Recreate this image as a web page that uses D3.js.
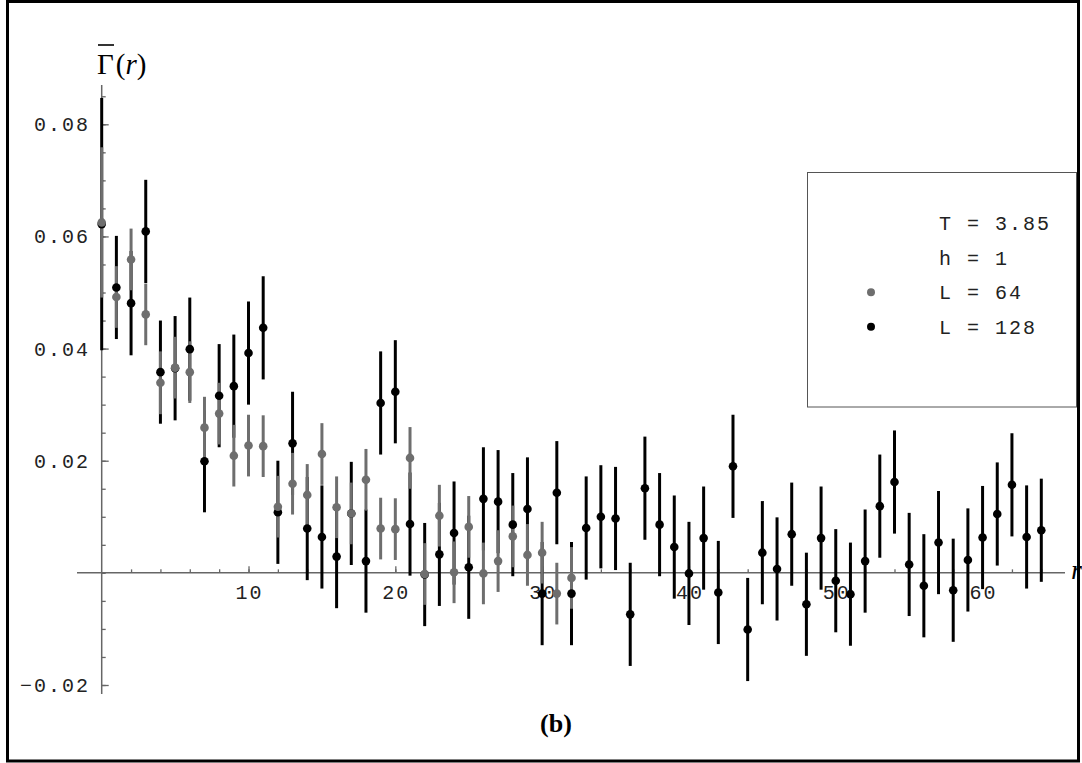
<!DOCTYPE html>
<html><head><meta charset="utf-8">
<script src="https://cdn.jsdelivr.net/npm/d3@7"></script>
<style>html,body{margin:0;padding:0;background:#fff;}</style>
</head><body>
<svg id="c" width="1082" height="763"></svg>
<script>
// ---- data ----
const rL64 = [0,1,2,3,4,5,6,7,8,9,10,11,12,13,14,15,16,17,18,19,20,21,22,23,24,25,26,27,28,29,30,31,32];
const gL64 = [0.0625,0.0492,0.0559,0.0461,0.0339,0.0366,0.0358,0.0259,0.0284,0.0209,0.0227,0.0226,0.0118,0.0159,0.0139,0.0212,0.0117,0.0106,0.0166,0.0079,0.0078,0.0205,-0.0002,0.0102,0.0001,0.0082,-0.0001,0.0021,0.0065,0.0032,0.0036,-0.0037,-0.0009];
const eL64 = [0.0134,0.0055,0.0055,0.0055,0.0056,0.0055,0.0055,0.0055,0.0055,0.0055,0.0055,0.0055,0.0055,0.0055,0.0055,0.0055,0.0055,0.0055,0.0055,0.0055,0.0055,0.0055,0.0055,0.0055,0.0055,0.0055,0.0055,0.0055,0.0055,0.0055,0.0055,0.0055,0.0055];
const rL128 = [0,1,2,3,4,5,6,7,8,9,10,11,12,13,14,15,16,17,18,19,20,21,22,23,24,25,26,27,28,29,30,31,32,33,34,35,36,37,38,39,40,41,42,43,44,45,46,47,48,49,50,51,52,53,54,55,56,57,58,59,60,61,62,63,64];
const gL128 = [0.0622,0.0509,0.0481,0.0609,0.0358,0.0365,0.0399,0.0199,0.0316,0.0333,0.0392,0.0437,0.0108,0.0231,0.0079,0.0064,0.0029,0.0106,0.0021,0.0303,0.0323,0.0087,-0.0003,0.0033,0.0071,0.0010,0.0132,0.0127,0.0086,0.0114,-0.0037,0.0143,-0.0037,0.0080,0.0100,0.0097,-0.0074,0.0151,0.0086,0.0046,-0.0001,0.0062,-0.0035,0.0190,-0.0101,0.0036,0.0007,0.0069,-0.0056,0.0062,-0.0014,-0.0038,0.0021,0.0119,0.0162,0.0015,-0.0023,0.0054,-0.0031,0.0023,0.0063,0.0105,0.0157,0.0064,0.0076];
const eL128 = [0.0225,0.0092,0.0093,0.0092,0.0092,0.0093,0.0092,0.0091,0.0092,0.0092,0.0092,0.0092,0.0092,0.0092,0.0092,0.0092,0.0092,0.0092,0.0092,0.0092,0.0092,0.0092,0.0092,0.0092,0.0092,0.0092,0.0092,0.0092,0.0092,0.0092,0.0092,0.0092,0.0092,0.0092,0.0092,0.0092,0.0092,0.0092,0.0092,0.0092,0.0092,0.0092,0.0092,0.0092,0.0092,0.0092,0.0092,0.0092,0.0092,0.0092,0.0092,0.0092,0.0092,0.0092,0.0092,0.0092,0.0092,0.0092,0.0092,0.0092,0.0092,0.0092,0.0092,0.0092,0.0092];
const xTickLabels = [10,20,30,40,50,60];
const yTickLabels = [-0.02,0.02,0.04,0.06,0.08];
const legendInfo = ["T = 3.85","h = 1"];
const seriesNames = ["L = 64","L = 128"];

// ---- drawing ----
const svg = d3.select("#c");
const x = d3.scaleLinear().domain([0,64]).range([101.7,1041.3]);
const y = d3.scaleLinear().domain([-0.02,0.08]).range([685,124.3]);
const axisCol = "#666", grayCol = "#6e6e6e", mono = "'Liberation Mono', 'Courier New', monospace";

// frame
svg.append("rect").attr("x",7.5).attr("y",1.5).attr("width",1071).attr("height",759.5)
  .attr("fill","none").attr("stroke","#000").attr("stroke-width",3);

const g = svg.append("g");
// y axis
const yAxis = d3.axisRight(y).tickValues(yTickLabels).tickSize(7).tickFormat("");
const yAx = g.append("g").attr("transform",`translate(${x(0)},0)`).call(yAxis);
const yMinor = d3.axisRight(y).tickValues(d3.range(-0.02,0.0851,0.005)).tickSize(4).tickFormat("");
const yAx2 = g.append("g").attr("transform",`translate(${x(0)},0)`).call(yMinor);
[yAx,yAx2].forEach(a=>{a.select(".domain").remove(); a.selectAll("line").attr("stroke",axisCol).attr("stroke-width",1.3);});
g.append("line").attr("x1",x(0)).attr("x2",x(0)).attr("y1",85).attr("y2",694).attr("stroke",axisCol).attr("stroke-width",1.5);
g.selectAll(".ylab").data(yTickLabels).join("text")
  .attr("x",90).attr("y",d=>y(d)+7).attr("text-anchor","end")
  .attr("font-family",mono).attr("font-size",20).attr("letter-spacing",2).attr("fill","#222")
  .text(d=>d3.format(".2f")(d).replace("-","\u2212"));

// x axis
const xAxis = d3.axisTop(x).tickValues(xTickLabels).tickSize(6.5).tickFormat("");
const xAx = g.append("g").attr("transform",`translate(0,${y(0)})`).call(xAxis);
const xMinor = d3.axisTop(x).tickValues(d3.range(2,65,2)).tickSize(3.5).tickFormat("");
const xAx2 = g.append("g").attr("transform",`translate(0,${y(0)})`).call(xMinor);
[xAx,xAx2].forEach(a=>{a.select(".domain").remove(); a.selectAll("line").attr("stroke",axisCol).attr("stroke-width",1.3);});
g.append("line").attr("x1",77).attr("x2",1065).attr("y1",y(0)).attr("y2",y(0)).attr("stroke",axisCol).attr("stroke-width",1.5);
g.selectAll(".xlab").data(xTickLabels).join("text")
  .attr("x",d=>x(d)+1).attr("y",y(0)+26).attr("text-anchor","middle")
  .attr("font-family",mono).attr("font-size",20).attr("letter-spacing",2).attr("fill","#222")
  .text(d=>d);

// error bars: black first, then gray
const s128 = rL128.map((r,i)=>({r,v:gL128[i],e:eL128[i]}));
const s64 = rL64.map((r,i)=>({r,v:gL64[i],e:eL64[i]}));
g.append("g").selectAll("line").data(s128).join("line")
  .attr("x1",d=>x(d.r)).attr("x2",d=>x(d.r)).attr("y1",d=>y(d.v+d.e)).attr("y2",d=>y(d.v-d.e))
  .attr("stroke","#000").attr("stroke-width",3);
g.append("g").selectAll("line").data(s64).join("line")
  .attr("x1",d=>x(d.r)).attr("x2",d=>x(d.r)).attr("y1",d=>y(d.v+d.e)).attr("y2",d=>y(d.v-d.e))
  .attr("stroke",grayCol).attr("stroke-width",3);
g.append("g").selectAll("circle").data(s128).join("circle")
  .attr("cx",d=>x(d.r)).attr("cy",d=>y(d.v)).attr("r",4.3).attr("fill","#000");
g.append("g").selectAll("circle").data(s64).join("circle")
  .attr("cx",d=>x(d.r)).attr("cy",d=>y(d.v)).attr("r",4.3).attr("fill",grayCol);

// axis titles
svg.append("text").attr("x",1071).attr("y",579).attr("font-family","'Liberation Serif', serif")
  .attr("font-style","italic").attr("font-size",28).attr("fill","#000").text("r");
const yt = svg.append("text").attr("x",97).attr("y",74).attr("font-family","'Liberation Serif', serif")
  .attr("font-size",29).attr("fill","#000");
yt.append("tspan").text("\u0393");
yt.append("tspan").attr("dx",2).text("(");
yt.append("tspan").attr("font-style","italic").text("r");
yt.append("tspan").text(")");
svg.append("line").attr("x1",98).attr("x2",114).attr("y1",45).attr("y2",45).attr("stroke","#000").attr("stroke-width",1.6);

svg.append("text").attr("x",556).attr("y",732).attr("text-anchor","middle")
  .attr("font-family","'Liberation Serif', serif").attr("font-weight","bold").attr("font-size",26).text("(b)");

// legend
svg.append("rect").attr("x",807.5).attr("y",172.5).attr("width",269).attr("height",234.5)
  .attr("fill","#fff").attr("stroke","#555").attr("stroke-width",1);
const legRows = legendInfo.concat(seriesNames);
svg.selectAll(".lg").data(legRows).join("text")
  .attr("x",939).attr("y",(d,i)=>230+i*34.7)
  .attr("font-family",mono).attr("font-size",20).attr("letter-spacing",2).attr("fill","#222")
  .text(d=>d);
svg.selectAll(".ld").data([grayCol,"#000"]).join("circle")
  .attr("cx",871).attr("cy",(d,i)=>292.3+i*34.4).attr("r",4).attr("fill",d=>d);
</script>
</body></html>
